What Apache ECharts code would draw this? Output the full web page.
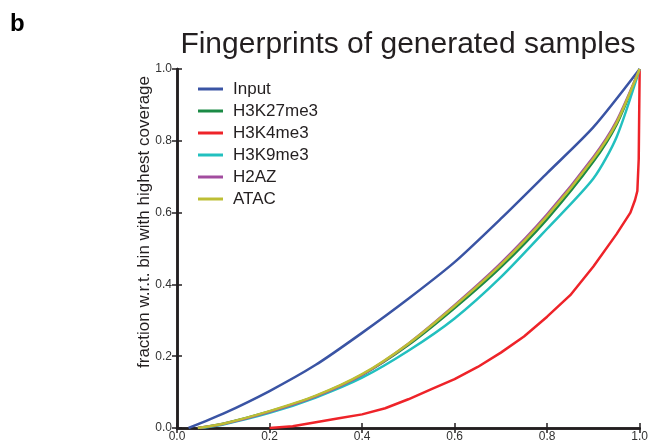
<!DOCTYPE html>
<html>
<head>
<meta charset="utf-8">
<script src="https://cdn.jsdelivr.net/npm/echarts@6/dist/echarts.min.js"></script>
<style>html,body{margin:0;padding:0;background:#fff}#c{width:651px;height:443px}</style>
</head>
<body>
<div id="c"></div>
<script>
var seriesNames = ['Input','H3K27me3','H3K4me3','H3K9me3','H2AZ','ATAC'];
var tickLabels = ['0.0','0.2','0.4','0.6','0.8','1.0'];

var inputX = [0.025,0.1,0.2,0.3,0.4,0.5,0.6,0.7,0.8,0.9,1.0];
var inputY = [0,0.04,0.103,0.176,0.265,0.36,0.462,0.583,0.71,0.838,1.0];

var markX = [0.045,0.1,0.2,0.3,0.4,0.5,0.6,0.7,0.8,0.9,0.95,1.0];
var h3k27Y = [0,0.012,0.046,0.089,0.148,0.231,0.334,0.448,0.582,0.742,0.845,1.0];
var h2azY  = [0,0.011,0.045,0.088,0.148,0.235,0.342,0.459,0.595,0.755,0.855,1.0];
var atacY  = [0,0.012,0.047,0.09,0.15,0.235,0.34,0.455,0.59,0.75,0.85,1.0];

var h3k9X = [0.05,0.1,0.2,0.3,0.4,0.5,0.6,0.7,0.8,0.9,0.95,1.0];
var h3k9Y = [0,0.01,0.042,0.085,0.14,0.215,0.305,0.42,0.555,0.695,0.81,1.0];

var h3k4X = [0.2,0.25,0.3,0.35,0.4,0.45,0.5,0.55,0.6,0.65,0.7,0.75,0.8,0.85,0.9,0.95,0.98,0.99,0.995,0.998,1.0];
var h3k4Y = [0,0.005,0.016,0.027,0.038,0.055,0.08,0.108,0.136,0.17,0.21,0.255,0.31,0.37,0.45,0.54,0.6,0.635,0.66,0.75,1.0];

var colors = ['#3a54a4','#1b8a45','#ee2329','#22c0bf','#a24c9f','#bdbe34'];

function pairs(xs, ys){ return xs.map(function(x,i){return [x, ys[i]];}); }

var dataSets = [
  pairs(inputX, inputY),
  pairs(markX, h3k27Y),
  pairs(h3k4X, h3k4Y),
  pairs(h3k9X, h3k9Y),
  pairs(markX, h2azY),
  pairs(markX, atacY)
];

var chart = echarts.init(document.getElementById('c'), null, {renderer:'canvas'});
var axisLine = {show:true, lineStyle:{color:'#231f20', width:2.5}};
var fmt = function(v){ return tickLabels[Math.round(v/0.2)]; };
var tick = {show:true, inside:true, length:5, lineStyle:{color:'#231f20', width:1.5}};

var option = {
  backgroundColor:'#fff',
  animation:false,
  color: colors,
  title: {
    text:'Fingerprints of generated samples',
    left: 403, textAlign:'center', top: 25,
    textStyle:{fontFamily:'Liberation Sans, Arial, sans-serif', fontWeight:'normal', fontSize:30, color:'#231f20'}
  },
  grid: {left:177, right:10, top:69, bottom:15},
  legend: {
    orient:'vertical', left:193, top:75,
    itemWidth:25, itemHeight:3, itemGap:4,
    icon:'rect',
    data: seriesNames,
    textStyle:{fontFamily:'Liberation Sans, Arial, sans-serif', fontSize:17, color:'#231f20', lineHeight:18, padding:[0,0,0,5]}
  },
  xAxis: [
    {type:'value', min:0, max:1, interval:0.2, position:'bottom',
     axisLine:axisLine, splitLine:{show:false}, axisTick:tick,
     axisLabel:{formatter:fmt, fontFamily:'Liberation Sans, Arial, sans-serif', fontSize:12, color:'#333', margin:3}},
    {type:'value', min:0, max:1, interval:0.2, position:'top',
     axisLine:axisLine, splitLine:{show:false}, axisTick:tick, axisLabel:{show:false}}
  ],
  yAxis: [
    {type:'value', min:0, max:1, interval:0.2, position:'left',
     axisLine:axisLine, splitLine:{show:false}, axisTick:tick,
     axisLabel:{formatter:fmt, fontFamily:'Liberation Sans, Arial, sans-serif', fontSize:12, color:'#333', margin:5}},
    {type:'value', min:0, max:1, interval:0.2, position:'right',
     axisLine:axisLine, splitLine:{show:false}, axisTick:tick, axisLabel:{show:false}}
  ],
  graphic: [
    {type:'text', left:10, top:12, style:{text:'b', font:'bold 24px "Liberation Sans", Arial, sans-serif', fill:'#000'}},
    {type:'text', x:144, y:222, rotation:Math.PI/2,
     style:{text:'fraction w.r.t. bin with highest coverage', font:'17px "Liberation Sans", Arial, sans-serif', fill:'#231f20', align:'center', verticalAlign:'middle'}}
  ],
  series: seriesNames.map(function(n, i){
    return {
      name:n, type:'line', data:dataSets[i], showSymbol:false, symbol:'none',
      smooth: i === 2 ? false : 0.25,
      lineStyle:{width:2.5, color:colors[i]}, itemStyle:{color:colors[i]},
      z: 3 + i
    };
  })
};
chart.setOption(option);
</script>
</body>
</html>
